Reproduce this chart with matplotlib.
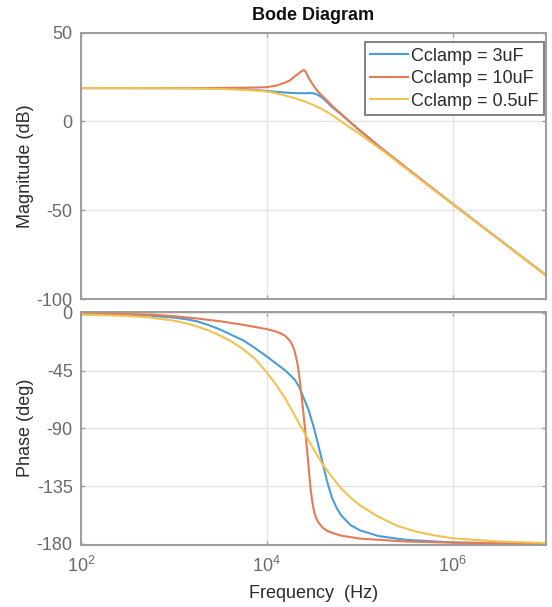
import numpy as np
import matplotlib
matplotlib.use("Agg")
import matplotlib.pyplot as plt
from matplotlib.ticker import LogLocator, NullLocator

plt.rcParams["font.family"] = ["Liberation Sans", "DejaVu Sans"]
plt.rcParams["mathtext.default"] = "regular"
plt.rcParams["axes.unicode_minus"] = False

# ── Data (log10 of frequency in Hz) ───────────────────────────────────────
labels = ["Cclamp = 3uF", "Cclamp = 10uF", "Cclamp = 0.5uF"]
colors = ["#4A9DD8", "#E57B56", "#F0C350"]

# magnitude (dB)
mag_3uF_logf = [2.0, 2.5, 3.0, 3.25, 3.5, 3.75, 4.0, 4.1, 4.2, 4.25, 4.3, 4.35, 4.4,
                4.45, 4.5, 4.55, 4.6, 4.65, 4.7, 4.8, 4.9, 5.0, 5.25, 5.5, 6.0, 6.5, 7.0]
mag_3uF = [18.8, 18.8, 18.8, 18.7, 18.6, 18.2, 17.2, 16.7, 16.3, 16.1, 16.0, 15.9, 15.9,
           16.0, 15.9, 15.0, 13.2, 10.8, 8.2, 4.0, -0.6, -5.2, -15.9, -26.2, -46.5, -66.5, -86.5]

mag_10uF_logf = [2.0, 2.5, 3.0, 3.25, 3.5, 3.75, 4.0, 4.1, 4.2, 4.25, 4.3, 4.35, 4.38, 4.4,
                 4.42, 4.45, 4.5, 4.55, 4.6, 4.65, 4.7, 4.8, 4.9, 5.0, 5.25, 5.5, 6.0, 6.5, 7.0]
mag_10uF = [18.8, 18.8, 18.8, 18.8, 18.9, 19.0, 19.3, 20.2, 22.0, 23.2, 25.4, 27.4, 28.5, 29.0,
            27.8, 24.5, 20.3, 16.8, 14.2, 11.6, 8.9, 4.2, -0.5, -5.0, -15.8, -26.1, -46.5, -66.5, -86.5]

mag_05uF_logf = [2.0, 2.5, 3.0, 3.25, 3.5, 3.75, 3.875, 4.0, 4.1, 4.2, 4.3, 4.4, 4.5, 4.6, 4.7,
                 4.8, 4.9, 5.0, 5.25, 5.5, 6.0, 6.5, 7.0]
mag_05uF = [18.8, 18.8, 18.7, 18.6, 18.3, 17.8, 17.4, 16.9, 15.9, 14.6, 13.1, 11.4, 9.3, 6.8, 3.6,
            0.0, -3.6, -7.1, -16.6, -26.7, -46.7, -66.6, -86.5]

# phase (deg)
ph_3uF_logf = [2.0, 2.5, 2.75, 3.0, 3.125, 3.25, 3.375, 3.5, 3.625, 3.75, 3.875, 4.0, 4.1,
               4.2, 4.3, 4.35, 4.4, 4.45, 4.5, 4.55, 4.6, 4.65, 4.7, 4.75, 4.8, 4.9, 5.0,
               5.2, 5.5, 6.0, 6.5, 7.0]
ph_3uF = [-0.8, -1.4, -2.1, -3.6, -4.8, -6.5, -9.5, -13.0, -17.3, -21.5, -27.5, -34, -39.5,
          -45, -52, -58, -67, -76, -88, -102, -117, -132, -144, -152, -158, -165.5, -169.5,
          -174, -177, -179, -179.6, -180]

ph_10uF_logf = [2.0, 2.5, 2.75, 3.0, 3.25, 3.5, 3.75, 4.0, 4.1, 4.15, 4.2, 4.25, 4.28, 4.3,
                4.33, 4.35, 4.37, 4.39, 4.41, 4.43, 4.45, 4.47, 4.49, 4.51, 4.53, 4.55, 4.6,
                4.65, 4.7, 4.8, 5.0, 5.5, 6.0, 7.0]
ph_10uF = [-0.5, -0.9, -1.2, -2.5, -4.3, -6.5, -9.3, -12.6, -14.5, -16, -18, -22, -26, -30,
           -40, -50, -63, -76, -90, -105, -121, -137, -148, -155.5, -160, -163, -167.5,
           -170, -171.5, -173.7, -176, -178.3, -179.2, -180]

ph_05uF_logf = [2.0, 2.5, 2.75, 3.0, 3.125, 3.25, 3.375, 3.5, 3.625, 3.75, 3.875, 4.0, 4.1,
                4.2, 4.3, 4.4, 4.5, 4.6, 4.7, 4.8, 4.9, 5.0, 5.2, 5.4, 5.6, 5.8, 6.0, 6.5, 7.0]
ph_05uF = [-1.2, -2.3, -3.6, -6.0, -8.0, -10.5, -13.7, -17.8, -22.5, -28.5, -36, -46.5, -56,
           -67, -80, -93, -106, -118, -128, -137, -144, -150, -159, -166, -170.5, -173.5,
           -175.8, -178.3, -179.5]

mag_series = [(mag_3uF_logf, mag_3uF), (mag_10uF_logf, mag_10uF), (mag_05uF_logf, mag_05uF)]
ph_series = [(ph_3uF_logf, ph_3uF), (ph_10uF_logf, ph_10uF), (ph_05uF_logf, ph_05uF)]

# ── Figure ────────────────────────────────────────────────────────────────
W, H = 552, 607
fig = plt.figure(figsize=(W / 100, H / 100), dpi=100)
left, right = 81, 545.7
ax1 = fig.add_axes([left / W, 1 - 299 / H, (right - left) / W, (299 - 32.7) / H])
ax2 = fig.add_axes([left / W, 1 - 545 / H, (right - left) / W, (545 - 311.7) / H])

spine_col = "#9c9c9c"
tick_col = "#6a6a6a"
label_col = "#2b2b2b"

for (lf, v), c, lab in zip(mag_series, colors, labels):
    ax1.plot(10 ** np.array(lf), v, color=c, lw=1.5, label=lab)
for (lf, v), c in zip(ph_series, colors):
    ax2.plot(10 ** np.array(lf), v, color=c, lw=1.5)

ax1.set_ylim(-100, 50)
ax1.set_yticks([-100, -50, 0, 50])
ax2.set_ylim(-181, 1)
ax2.set_yticks([-180, -135, -90, -45, 0])

for ax in (ax1, ax2):
    ax.set_xscale("log")
    ax.set_xlim(1e2, 1e7)
    ax.xaxis.set_major_locator(LogLocator(base=100))
    ax.xaxis.set_minor_locator(NullLocator())
    ax.grid(True, color="#e4e4e4", lw=1.0)
    ax.set_axisbelow(True)
    for s in ax.spines.values():
        s.set_color(spine_col)
        s.set_linewidth(1.4)
    ax.tick_params(direction="in", length=3, width=1, color=spine_col,
                   top=True, right=True, labelsize=13, labelcolor=tick_col, pad=6)

ax1.tick_params(labelbottom=False)
ax2.tick_params(axis="x", pad=8)

leg = ax1.legend(loc="upper right", bbox_to_anchor=(0.9963, 0.964), borderaxespad=0,
                 fontsize=13, frameon=True, fancybox=False, handlelength=2.1,
                 handletextpad=0.15, labelspacing=0.3, borderpad=0.3)
leg.get_frame().set_edgecolor("#555555")
leg.get_frame().set_linewidth(1.3)
for t in leg.get_texts():
    t.set_color(label_col)

fig.text((left + right) / 2 / W, 1 - 15 / H, "Bode Diagram", ha="center", va="center",
         fontsize=13, fontweight="bold", color="#111111")
fig.text(26 / W, 1 - 166 / H, "Magnitude (dB)", rotation=90, ha="center", va="center",
         fontsize=13, color=label_col)
fig.text(26 / W, 1 - 428 / H, "Phase (deg)", rotation=90, ha="center", va="center",
         fontsize=13, color=label_col)
fig.text((left + right) / 2 / W, 1 - 593 / H, "Frequency  (Hz)", ha="center", va="center",
         fontsize=13, color=label_col)

fig.savefig("out.png", dpi=100)
